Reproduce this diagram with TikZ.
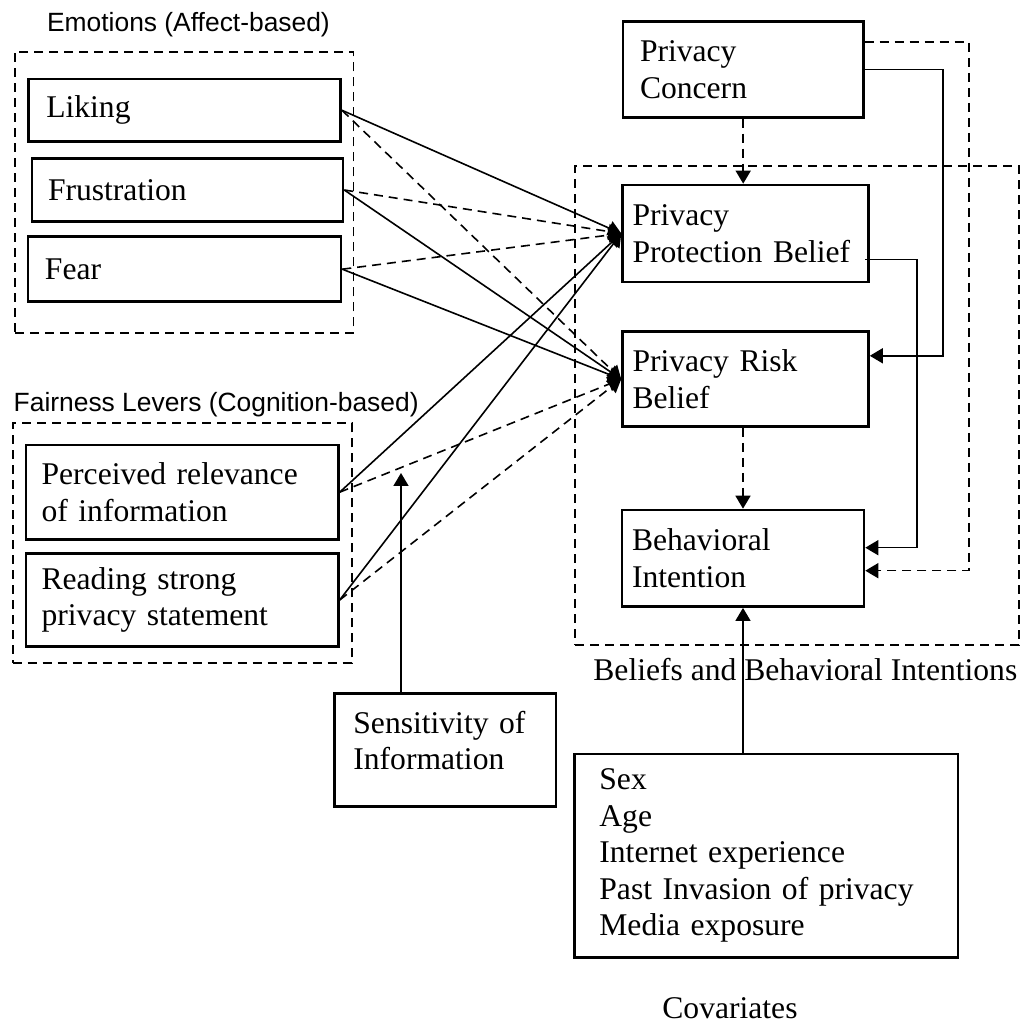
\documentclass[tikz,border=0pt]{standalone}
\usepackage{fontspec}
\setmainfont{Liberation Serif}
\setsansfont{Liberation Sans}
\usetikzlibrary{arrows.meta,positioning,calc}

\begin{document}
\begin{tikzpicture}[
  x=0.5pt, y=-0.5pt,
  every node/.style={font=\fontsize{15.8}{18.2}\selectfont},
  box/.style n args={3}{draw, line width=1.3pt, align=left, inner ysep=0pt,
              text width=#1, minimum height=#2, inner xsep=#3},
  grp/.style={draw, dash pattern=on 4.5pt off 3pt, line width=0.9pt, inner sep=0pt},
  grplabel/.style={font=\sffamily\fontsize{13.2}{15}\selectfont, anchor=base west, inner sep=0pt},
  caption/.style={anchor=base west, inner sep=0pt},
  arr/.style={-{Triangle[length=6.5pt,width=7.5pt]}, line width=0.8pt},
  darr/.style={arr, dash pattern=on 4.5pt off 3pt},
]
  \useasboundingbox (0,0) rectangle (1030,1026);

  % groups
  \node[grp, minimum width=169.2pt, minimum height=140.7pt] (emo) at (184.2,192.4) {};
  \node[grp, minimum width=169.5pt, minimum height=120pt] (fair) at (182.2,543.3) {};
  \node[grp, minimum width=221.8pt, minimum height=239.7pt] (bel) at (796.8,405.4) {};
  \node[grplabel] (emolbl) at (46.7,31.7) {Emotions (Affect-based)};
  \node[grplabel] (fairlbl) at (13.3,411.7) {Fairness Levers (Cognition-based)};
  \node[caption] (bellbl) at (593,681) {Beliefs and Behavioral Intentions};
  \node[caption] (covlbl) at (662,1018.3) {Covariates};

  % left boxes
  \node[box={138.2pt}{31.3pt}{9pt}] (liking) at (184.5,110.3) {Liking};
  \node[box={139.5pt}{31.7pt}{8pt}] (frus) at (187.5,190) {Frustration};
  \node[box={139.5pt}{32.5pt}{8.5pt}] (fear) at (184.5,269.2) {Fear};
  \node[box={140.6pt}{47.2pt}{7.8pt}] (perc) at (182.2,492.2) {Perceived relevance\\of information};
  \node[box={140.6pt}{46.7pt}{7.8pt}] (read) at (182.2,600) {Reading strong\\privacy statement};
  \node[box={91.8pt}{56.7pt}{9.5pt}] (sens) at (445.2,750) {Sensitivity of\\Information\rule[-9.5pt]{0pt}{0pt}};

  % right boxes
  \node[box={103.2pt}{47.8pt}{8.5pt}] (pc) at (743.2,69.5) {Privacy\\Concern};
  \node[box={113pt}{48.5pt}{5pt}] (prot) at (745.6,233.5) {Privacy\\Protection Belief};
  \node[box={113pt}{47.5pt}{5pt}] (risk) at (745.5,379.2) {Privacy Risk\\Belief};
  \node[box={111pt}{48.3pt}{5pt}] (bi) at (743,558.3) {Behavioral\\Intention};
  \node[box={166.8pt}{101.7pt}{12.5pt}] (cov) at (766.2,855.7) {Sex\\Age\\Internet experience\\Past Invasion of privacy\\Media exposure};

  \coordinate (mod) at (401,473);

  \draw[arr] (liking.east) -- (prot.west); \draw[darr] (liking.east) -- (risk.west);
  \draw[darr] (frus.east) -- (prot.west); \draw[arr] (frus.east) -- (risk.west);
  \draw[darr] (fear.east) -- (prot.west); \draw[arr] (fear.east) -- (risk.west);
  \draw[arr] (perc.east) -- (prot.west); \draw[darr] (perc.east) -- (risk.west);
  \draw[arr] (read.east) -- (prot.west); \draw[darr] (read.east) -- (risk.west);
  \draw[arr] (sens.north -| mod) -- (mod);
  \draw[darr] (pc.south) -- (pc.south |- prot.north);
  \draw[darr] (risk.south -| bi.north) -- (bi.north);
  \draw[arr] (cov.north -| bi.south) -- (bi.south);
  \draw[darr] ([yshift=-10.8pt]pc.north east) -- ++(104,0) |- ([yshift=-31pt]bi.north east);
  \draw[arr] (pc.east) -- ++(78.5,0) |- ([yshift=-12.7pt]risk.north east);
  \draw[arr] ([xshift=-2.3pt,yshift=-38pt]prot.north east) -- ++(51.7,0) |- ([yshift=-19.5pt]bi.north east);
\end{tikzpicture}
\end{document}
